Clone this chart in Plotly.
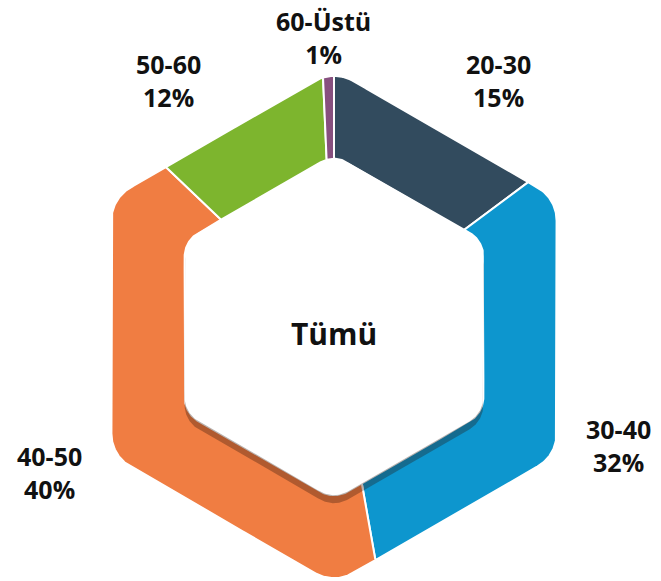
import numpy as np
import plotly.graph_objects as go

# ---- data ----
categories = ["20-30", "30-40", "40-50", "50-60", "60-Üstü"]
values = [14.8, 32.4, 39.9, 12.2, 0.7]
colors = ["#324B5E", "#0D96CE", "#F07D42", "#7DB52E", "#87507F"]
center_label = "Tümü"

# ---- layout constants (page pixels) ----
W, H = 661, 581
CX, CY = 334, 327
R_OUT, RC_OUT = 257, 38
R_IN, RC_IN = 172.5, 28
SHADOW_DY = 8
# label anchor positions (pixel coordinates of label block centers)
label_pos = [(498, 80), (618, 445), (49, 472), (168, 80), (323, 37)]


def rounded_hex_boundary(R, rc):
    """Dense boundary of a pointy-top rounded hexagon; returns (theta_deg, r)."""
    Rp = R - rc / np.cos(np.radians(30))
    pts = []
    for k in range(6):
        va = np.radians(60 * k)
        vx, vy = Rp * np.sin(va), -Rp * np.cos(va)
        phis = np.radians(np.linspace(60 * k - 30, 60 * k + 30, 60))
        arc = np.c_[vx + rc * np.sin(phis), vy - rc * np.cos(phis)]
        pts.append(arc)
        nk = (k + 1) % 6
        na = np.radians(60 * nk)
        nvx, nvy = Rp * np.sin(na), -Rp * np.cos(na)
        ph = np.radians(60 * k + 30)
        p0 = arc[-1]
        p1 = np.array([nvx + rc * np.sin(ph), nvy - rc * np.cos(ph)])
        t = np.linspace(0, 1, 80)[1:-1]
        pts.append(p0[None, :] + t[:, None] * (p1 - p0)[None, :])
    P = np.vstack(pts)
    th = np.degrees(np.arctan2(P[:, 0], -P[:, 1])) % 360
    r = np.hypot(P[:, 0], P[:, 1])
    o = np.argsort(th)
    th, r = th[o], r[o]
    th = np.r_[th[-1] - 360, th, th[0] + 360]
    r = np.r_[r[-1], r, r[0]]
    return th, r


th_o, r_o = rounded_hex_boundary(R_OUT, RC_OUT)
th_i, r_i = rounded_hex_boundary(R_IN, RC_IN)


def r_out(a):
    return np.interp(a % 360, th_o, r_o)


def r_in(a):
    return np.interp(a % 360, th_i, r_i)


def to_xy(a, r, dy=0.0):
    ar = np.radians(a)
    return CX + r * np.sin(ar), CY - r * np.cos(ar) + dy


fig = go.Figure()

total = sum(values)
cum = np.cumsum([0] + values) / total * 360
for i, (cat, v, col) in enumerate(zip(categories, values, colors)):
    a0, a1 = cum[i], cum[i + 1]
    a = np.linspace(a0, a1, max(int((a1 - a0) * 6), 4))
    xo, yo = to_xy(a, r_out(a))
    xi, yi = to_xy(a[::-1], r_in(a[::-1]))
    xs = np.r_[xo, xi, xo[:1]]
    ys = np.r_[yo, yi, yo[:1]]
    fig.add_trace(go.Scatter(x=xs, y=ys, mode="lines", fill="toself",
                             fillcolor=col, line=dict(color="white", width=2),
                             hoverinfo="text", text=f"{cat}: {v}%",
                             showlegend=False))

# inner shadow + white hole
a = np.linspace(0, 360, 1441)
sx, sy = to_xy(a, r_in(a), SHADOW_DY)
fig.add_trace(go.Scatter(x=sx, y=sy, mode="lines", fill="toself",
                         fillcolor="rgba(40,20,10,0.32)", line=dict(width=0),
                         hoverinfo="skip", showlegend=False))
hx, hy = to_xy(a, r_in(a))
fig.add_trace(go.Scatter(x=hx, y=hy, mode="lines", fill="toself",
                         fillcolor="white", line=dict(width=0, color="white"),
                         hoverinfo="skip", showlegend=False))

FONT = "Open Sans"
for (cat, v), (lx, ly) in zip(zip(categories, values), label_pos):
    fig.add_annotation(x=lx, y=ly, xref="x", yref="y", showarrow=False,
                       text=f"<b>{cat}<br>{round(v / total * 100)}%</b>",
                       font=dict(family=FONT, size=25, color="#111111"),
                       align="center", borderpad=0)

fig.add_annotation(x=CX, y=CY + 6, xref="x", yref="y", showarrow=False,
                   text=f"<b>{center_label}</b>",
                   font=dict(family=FONT, size=30, color="#111111"))

fig.update_xaxes(range=[0, W], visible=False, fixedrange=True)
fig.update_yaxes(range=[H, 0], visible=False, fixedrange=True)
fig.update_layout(width=W, height=H, margin=dict(l=0, r=0, t=0, b=0),
                  plot_bgcolor="white", paper_bgcolor="white")

fig.write_html("out.html",
               config={"displayModeBar": False},
               post_script="document.body.style.margin='0px';"
                           "document.body.style.overflow='hidden';")
